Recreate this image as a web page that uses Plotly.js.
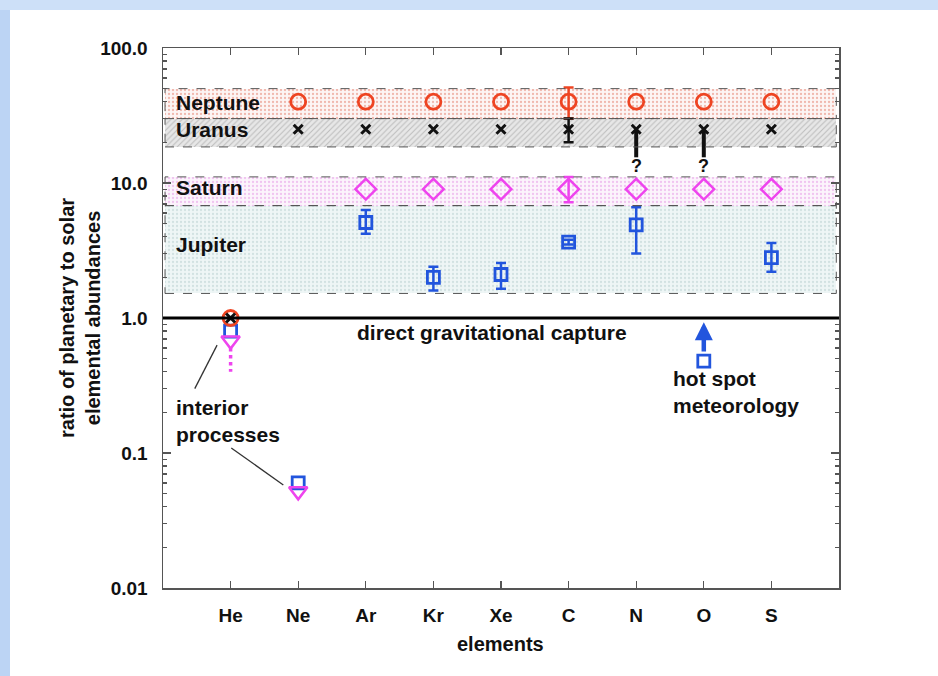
<!DOCTYPE html>
<html><head><meta charset="utf-8">
<script src="https://cdn.plot.ly/plotly-3.0.1.min.js"></script>
<style>html,body{margin:0;padding:0;background:#fff}#chart{width:938px;height:676px}</style>
</head><body><div id="chart"></div>
<script>
// ---------- data ----------
const elements = ['He','Ne','Ar','Kr','Xe','C','N','O','S'];

const neptuneY        = [1.0, 40, 40, 40, 40, 40, 40, 40, 40];
const neptuneErrPlus  = [0, 0, 0, 0, 0, 11, 0, 0, 0];
const neptuneErrMinus = [0, 0, 0, 0, 0, 10, 0, 0, 0];

const uranusY        = [1.0, 25, 25, 25, 25, 25, 25, 25, 25];
const uranusErrPlus  = [0, 0, 0, 0, 0, 5, 0, 0, 0];
const uranusErrMinus = [0, 0, 0, 0, 0, 5, 0, 0, 0];
const uranusLimitEl     = ['N', 'O'];
const uranusLimitTop    = [25, 25];
const uranusLimitBottom = [15.5, 15.5];

const saturnY        = [0.68, 0.052, 9, 9, 9, 9, 9, 9, 9];
const saturnErrPlus  = [0, 0, 0, 0, 0, 2.1, 0, 0, 0];
const saturnErrMinus = [0, 0, 0, 0, 0, 1.8, 0, 0, 0];
const saturnHeRange  = [0.6, 0.4];

const jupiterY        = [0.8, 0.06, 5.1, 2.0, 2.1, 3.65, 4.9, 0.48, 2.8];
const jupiterErrPlus  = [0, 0, 1.2, 0.4, 0.45, 0.15, 1.7, 0, 0.8];
const jupiterErrMinus = [0, 0, 0.9, 0.4, 0.45, 0.15, 1.9, 0, 0.6];
const oxygenArrow = [0.55, 0.93];   // from, to

const bandNames = ['Neptune', 'Uranus', 'Saturn', 'Jupiter'];
const bandLow   = [30, 18.5, 6.8, 1.52];
const bandHigh  = [50, 30, 11.1, 6.8];
const bandLabelY = [39.5, 24.7, 9.2, 3.5];

const yTickVals = [0.01, 0.1, 1, 10, 100];
const yTickText = ['0.01', '0.1', '1.0', '10.0', '100.0'];

// ---------- helpers ----------
const xi = elements.map((e, i) => i);
const nanz = a => a.map(v => (v ? v : NaN));
const RED = '#ee4422', BLK = '#111111', MAG = '#ee44ee', BLU = '#2255dd';
const X0 = -0.97, X1 = 8.96;

const bandStyle = [
  {shape: '.', fg: '#f0b8ae', bg: '#fdf5f4', size: 4, sol: 0.25},
  {shape: '/', fg: '#bcbcbc', bg: '#e7e7e7', size: 4, sol: 0.25},
  {shape: '.', fg: '#f0c4f0', bg: '#fcf4fc', size: 4, sol: 0.25},
  {shape: '.', fg: '#d2e2e2', bg: '#eef6f6', size: 4, sol: 0.25}
];

const traces = [];
bandNames.forEach((n, i) => {
  traces.push({
    type: 'bar', x: [(X0 + X1) / 2], y: [bandHigh[i] - bandLow[i]], base: [bandLow[i]],
    width: [X1 - X0], name: n, hoverinfo: 'skip',
    marker: {color: bandStyle[i].bg, line: {width: 0},
      pattern: {shape: bandStyle[i].shape, fgcolor: bandStyle[i].fg, bgcolor: bandStyle[i].bg,
                size: bandStyle[i].size, solidity: bandStyle[i].sol}}
  });
});

// He saturn dotted range
traces.push({type: 'scatter', mode: 'lines', x: [0, 0], y: saturnHeRange,
  line: {color: MAG, width: 3.5, dash: 'dot'}, hoverinfo: 'skip'});

// Uranus uncertain downward lines
traces.push({type: 'scatter', mode: 'markers', x: uranusLimitEl.map(e => elements.indexOf(e)),
  y: uranusLimitTop, marker: {size: 1, opacity: 0},
  error_y: {type: 'data', symmetric: false, array: uranusLimitTop.map(() => NaN),
    arrayminus: uranusLimitTop.map((t, i) => t - uranusLimitBottom[i]),
    color: BLK, thickness: 4, width: 0}, hoverinfo: 'skip'});

function series(y, ep, em, color, symbol, size, lw) {
  return {type: 'scatter', mode: 'markers', x: xi, y: y,
    marker: {symbol: symbol, size: size, color: color, line: {color: color, width: lw}},
    error_y: {type: 'data', symmetric: false, array: nanz(ep), arrayminus: nanz(em),
      color: color, thickness: 2.5, width: 5}};
}
traces.push(series(jupiterY, jupiterErrPlus, jupiterErrMinus, BLU, 'square-open', 12, 2.8));
traces.push(series(saturnY, saturnErrPlus, saturnErrMinus, MAG,
  elements.map((e, i) => i < 2 ? 'triangle-down-open' : 'diamond-open'), 16, 2.5));
traces.push(series(neptuneY, neptuneErrPlus, neptuneErrMinus, RED, 'circle-open', 15, 2.8));
traces.push(series(uranusY, uranusErrPlus, uranusErrMinus, BLK, 'x-thin-open', 9, 3));

// ---------- layout ----------
const W = 676, H = 540, ML = 163, MT = 48, MB = 88;
const px2paperX = p => (p - ML) / W;
const px2paperY = p => (MT + H - p) / H;

const shapes = [];
bandNames.forEach((n, i) => {
  shapes.push({type: 'rect', xref: 'x', yref: 'y', x0: X0, x1: X1, y0: bandLow[i], y1: bandHigh[i],
    line: {color: '#555', width: 1, dash: 'dash'}, fillcolor: 'rgba(0,0,0,0)', layer: 'above'});
});
shapes.push({type: 'line', xref: 'paper', yref: 'y', x0: 0, x1: 1, y0: 1, y1: 1,
  line: {color: '#000', width: 3}, layer: 'above'});
// pointer lines for "interior processes"
shapes.push({type: 'line', xref: 'x', yref: 'y', x0: -0.53, y0: 0.30, x1: -0.20, y1: 0.63,
  line: {color: '#333', width: 1.3}});
shapes.push({type: 'line', xref: 'x', yref: 'y', x0: 0.01, y0: 0.109, x1: 0.78, y1: 0.058,
  line: {color: '#333', width: 1.3}});
// slide frame
shapes.push({type: 'rect', xref: 'paper', yref: 'paper', x0: px2paperX(0), x1: px2paperX(10),
  y0: px2paperY(676), y1: px2paperY(0), line: {width: 0}, fillcolor: '#bcd4f4'});
shapes.push({type: 'rect', xref: 'paper', yref: 'paper', x0: px2paperX(0), x1: px2paperX(938),
  y0: px2paperY(10), y1: px2paperY(0), line: {width: 0}, fillcolor: '#cde0f8'});

const F = 'Liberation Sans, Arial, Helvetica, sans-serif';
const annotations = [];
bandNames.forEach((n, i) => {
  annotations.push({xref: 'x', yref: 'y', x: -0.84, y: Math.log10(bandLabelY[i]), text: n,
    showarrow: false, xanchor: 'left', yanchor: 'middle', font: {size: 21, weight: 700, color: '#111'}});
});
annotations.push({xref: 'x', yref: 'y', x: 3.87, y: Math.log10(0.775), text: 'direct gravitational capture',
  showarrow: false, xanchor: 'center', yanchor: 'middle', font: {size: 21, weight: 700, color: '#111'}});
annotations.push({xref: 'x', yref: 'y', x: -0.84, y: Math.log10(0.172), text: 'interior<br>processes',
  showarrow: false, xanchor: 'left', yanchor: 'middle', align: 'left', font: {size: 21, weight: 700, color: '#111'}});
annotations.push({xref: 'x', yref: 'y', x: 6.52, y: Math.log10(0.285), text: 'hot spot<br>meteorology',
  showarrow: false, xanchor: 'left', yanchor: 'middle', align: 'left', font: {size: 21, weight: 700, color: '#111'}});
uranusLimitEl.forEach((e, i) => {
  annotations.push({xref: 'x', yref: 'y', x: elements.indexOf(e), y: Math.log10(uranusLimitBottom[i]),
    text: '?', showarrow: false, xanchor: 'center', yanchor: 'top', yshift: 3, font: {size: 18, weight: 700, color: '#111'}});
});
annotations.push({xref: 'x', yref: 'y', axref: 'x', ayref: 'y', x: 7, y: Math.log10(oxygenArrow[1]),
  ax: 7, ay: Math.log10(oxygenArrow[0]), text: '', showarrow: true, arrowhead: 2, arrowsize: 0.8,
  arrowwidth: 4.5, arrowcolor: BLU});
annotations.push({xref: 'paper', yref: 'paper', x: px2paperX(80), y: px2paperY(318), textangle: -90,
  xanchor: 'center', yanchor: 'middle',
  text: 'ratio of planetary to solar<br>elemental abundances', showarrow: false,
  font: {size: 20, weight: 700, color: '#111'}});
annotations.push({xref: 'paper', yref: 'paper', x: px2paperX(500), y: px2paperY(644),
  xanchor: 'center', yanchor: 'middle',
  text: 'elements', showarrow: false, font: {size: 20, weight: 700, color: '#111'}});

const minorVals = [];
[0.01, 0.1, 1, 10].forEach(d => { for (let k = 2; k <= 9; k++) minorVals.push(d * k); });

const layout = {
  width: 938, height: 676,
  margin: {l: ML, r: 938 - ML - W, t: MT, b: MB, pad: 0},
  paper_bgcolor: '#ffffff', plot_bgcolor: '#ffffff',
  showlegend: false, barmode: 'overlay', bargap: 0,
  font: {family: F, size: 19, color: '#111'},
  xaxis: {range: [-1, 9], tickmode: 'array', tickvals: xi, ticktext: elements,
    ticks: 'inside', ticklen: 7, tickwidth: 1.2, tickcolor: '#555',
    showline: true, linecolor: '#555', linewidth: 1.5, mirror: 'allticks',
    showgrid: false, zeroline: false, ticklabelstandoff: 10,
    tickfont: {family: F, size: 19, weight: 700, color: '#111'}},
  yaxis: {type: 'log', range: [-2, 2], tickmode: 'array', tickvals: yTickVals, ticktext: yTickText,
    ticks: 'inside', ticklen: 8, tickwidth: 1.2, tickcolor: '#555',
    minor: {tickmode: 'array', tickvals: minorVals, ticks: 'inside', ticklen: 4, tickcolor: '#555', showgrid: false},
    showline: true, linecolor: '#555', linewidth: 1.5, mirror: 'allticks',
    showgrid: false, zeroline: false, ticklabelstandoff: 10,
    tickfont: {family: F, size: 19, weight: 700, color: '#111'}},
  shapes: shapes,
  annotations: annotations
};

Plotly.newPlot('chart', traces, layout, {displayModeBar: false, staticPlot: true});
</script>
</body></html>
